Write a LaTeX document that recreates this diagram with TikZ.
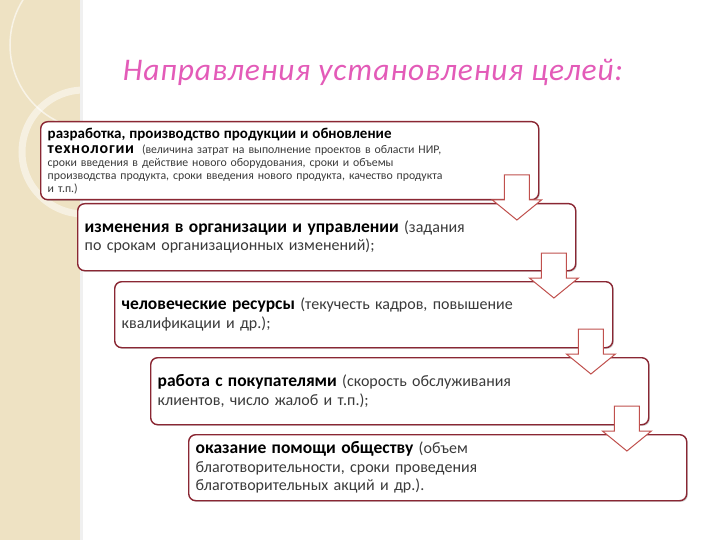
\documentclass[tikz,border=0pt]{standalone}
\usepackage{fontspec}
\setmainfont{Carlito}
\usetikzlibrary{calc,shadows}
\definecolor{boxred}{HTML}{8A2733}
\definecolor{arrowred}{HTML}{C0504D}
\definecolor{titlepink}{HTML}{E35BB8}
\definecolor{sand}{HTML}{EEE2C3}
\definecolor{textgray}{HTML}{3A3A3A}
\newcommand{\headfont}{\fontsize{17.5}{18.5}\selectfont\bfseries\color{black}}

\begin{document}
\begin{tikzpicture}[x=1pt, y=-1pt,
    goalbox/.style = {draw=boxred, line width=1.4pt, rounded corners=7pt, fill=white,
        anchor=north west, text width=484pt, inner xsep=7pt, inner ysep=2pt,
        align=left, text=textgray, font=\fontsize{16}{18.5}\selectfont,
        drop shadow={opacity=0.35, shadow xshift=1.2pt, shadow yshift=-1.2pt}},
    downarrow/.style = {draw=arrowred, line width=1pt, fill=white, line join=miter}]

    \useasboundingbox (0,0) rectangle (720,540);

    % left strip
    \fill[sand] (0,0) rectangle (80,540);
    \begin{scope}
        \clip (0,0) rectangle (80,540);
        \draw[white, opacity=0.6, line width=1.5pt] (95,45) circle (85);
        \draw[white, opacity=0.5, line width=7pt] (84,152) circle (62);
    \end{scope}
    \fill[black, opacity=0.06] (80,0) rectangle (83,540);

    \node[font=\fontsize{31.5}{36}\selectfont\itshape\addfontfeature{LetterSpace=3}, text=titlepink] (title) at (373,72) {Направления установления целей:};

    \node[goalbox, minimum height=78pt, font=\fontsize{11.8}{13}\selectfont] (b1) at (40,121) {{\fontsize{15}{18}\selectfont\bfseries\color{black}разработка, производство продукции и обновление}\\[2pt] {\fontsize{16}{18}\selectfont\bfseries\color{black}\addfontfeature{LetterSpace=5}технологии}~ (величина затрат на выполнение проектов в области НИР,\\ сроки введения в действие нового оборудования, сроки и объемы\\ производства продукта, сроки введения нового продукта, качество продукта\\ и т.п.)};
    \node[goalbox, minimum height=67pt] (b2) at (77,203) {{\headfont изменения в организации и управлении} (задания\\ по срокам организационных изменений);};
    \node[goalbox, minimum height=66pt] (b3) at (114,281) {{\headfont человеческие ресурсы} (текучесть кадров, повышение\\ квалификации и др.);};
    \node[goalbox, minimum height=67pt] (b4) at (150,357) {{\headfont работа с покупателями} (скорость обслуживания\\ клиентов, число жалоб и т.п.);};
    \node[goalbox, minimum height=66pt] (b5) at (188,434) {{\headfont оказание помощи обществу} (объем\\ благотворительности, сроки проведения\\ благотворительных акций и др.).};

    % hollow arrows between boxes
    \foreach \u/\v in {1/2,2/3,3/4,4/5}{
        \coordinate (a\u) at (b\u.south east |- b\v.north);
        \draw[downarrow] ($(a\u)+(-35,-28)$) -- ($(a\u)+(-10,-28)$) -- ($(a\u)+(-10,-3)$)
            -- ($(a\u)+(2,-3)$) -- ($(a\u)+(-22.5,17)$) -- ($(a\u)+(-47,-3)$)
            -- ($(a\u)+(-35,-3)$) -- cycle;
    }
\end{tikzpicture}
\end{document}
